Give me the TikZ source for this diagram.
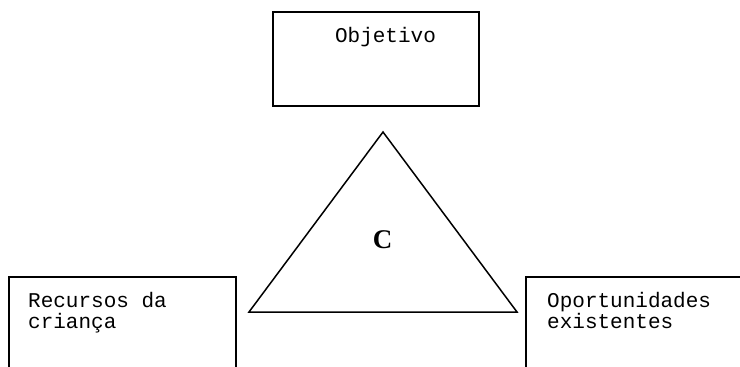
\documentclass[tikz,border=0pt]{standalone}
\usepackage{fontspec}
\setmonofont{Liberation Mono}
\newfontfamily\boldserif{Liberation Serif}
\begin{document}
\begin{tikzpicture}[x=1pt,y=-1pt,
  box/.style={draw,line width=1.9pt,rectangle,inner sep=0pt},
  label/.style={font=\ttfamily\fontsize{21}{21}\selectfont,inner sep=0pt,align=left,anchor=base west}]
\useasboundingbox (0,0) rectangle (740,367);
\clip (0,0) rectangle (740,367);
% three boxes
\node[box,minimum width=206pt,minimum height=94pt] (goal) at (376,59) {};
\node[box,minimum width=227pt,minimum height=140pt] (res) at (122.5,347) {};
\node[box,minimum width=240pt,minimum height=140pt] (opp) at (646,347) {};
% texts (the base anchor sits on the last line)
\node[font=\ttfamily\fontsize{21}{21}\selectfont,inner sep=0pt,anchor=base] (goaltxt) at (385.5,42) {Objetivo};
\node[label] (restxt) at (28,328) {Recursos da\\[0pt]criança};
\node[label] (opptxt) at (547,328) {Oportunidades\\[0pt]existentes};
% central triangle
\coordinate (apex) at (383,132);
\coordinate (bl) at (249,312);
\coordinate (br) at (517,312);
\draw[line width=1.5pt,line join=miter] (apex) -- (bl) -- (br) -- cycle;
\node[font=\boldserif\bfseries\fontsize{27}{27}\selectfont,inner sep=0pt,anchor=base] (c) at (382.5,248) {C};
\end{tikzpicture}
\end{document}
